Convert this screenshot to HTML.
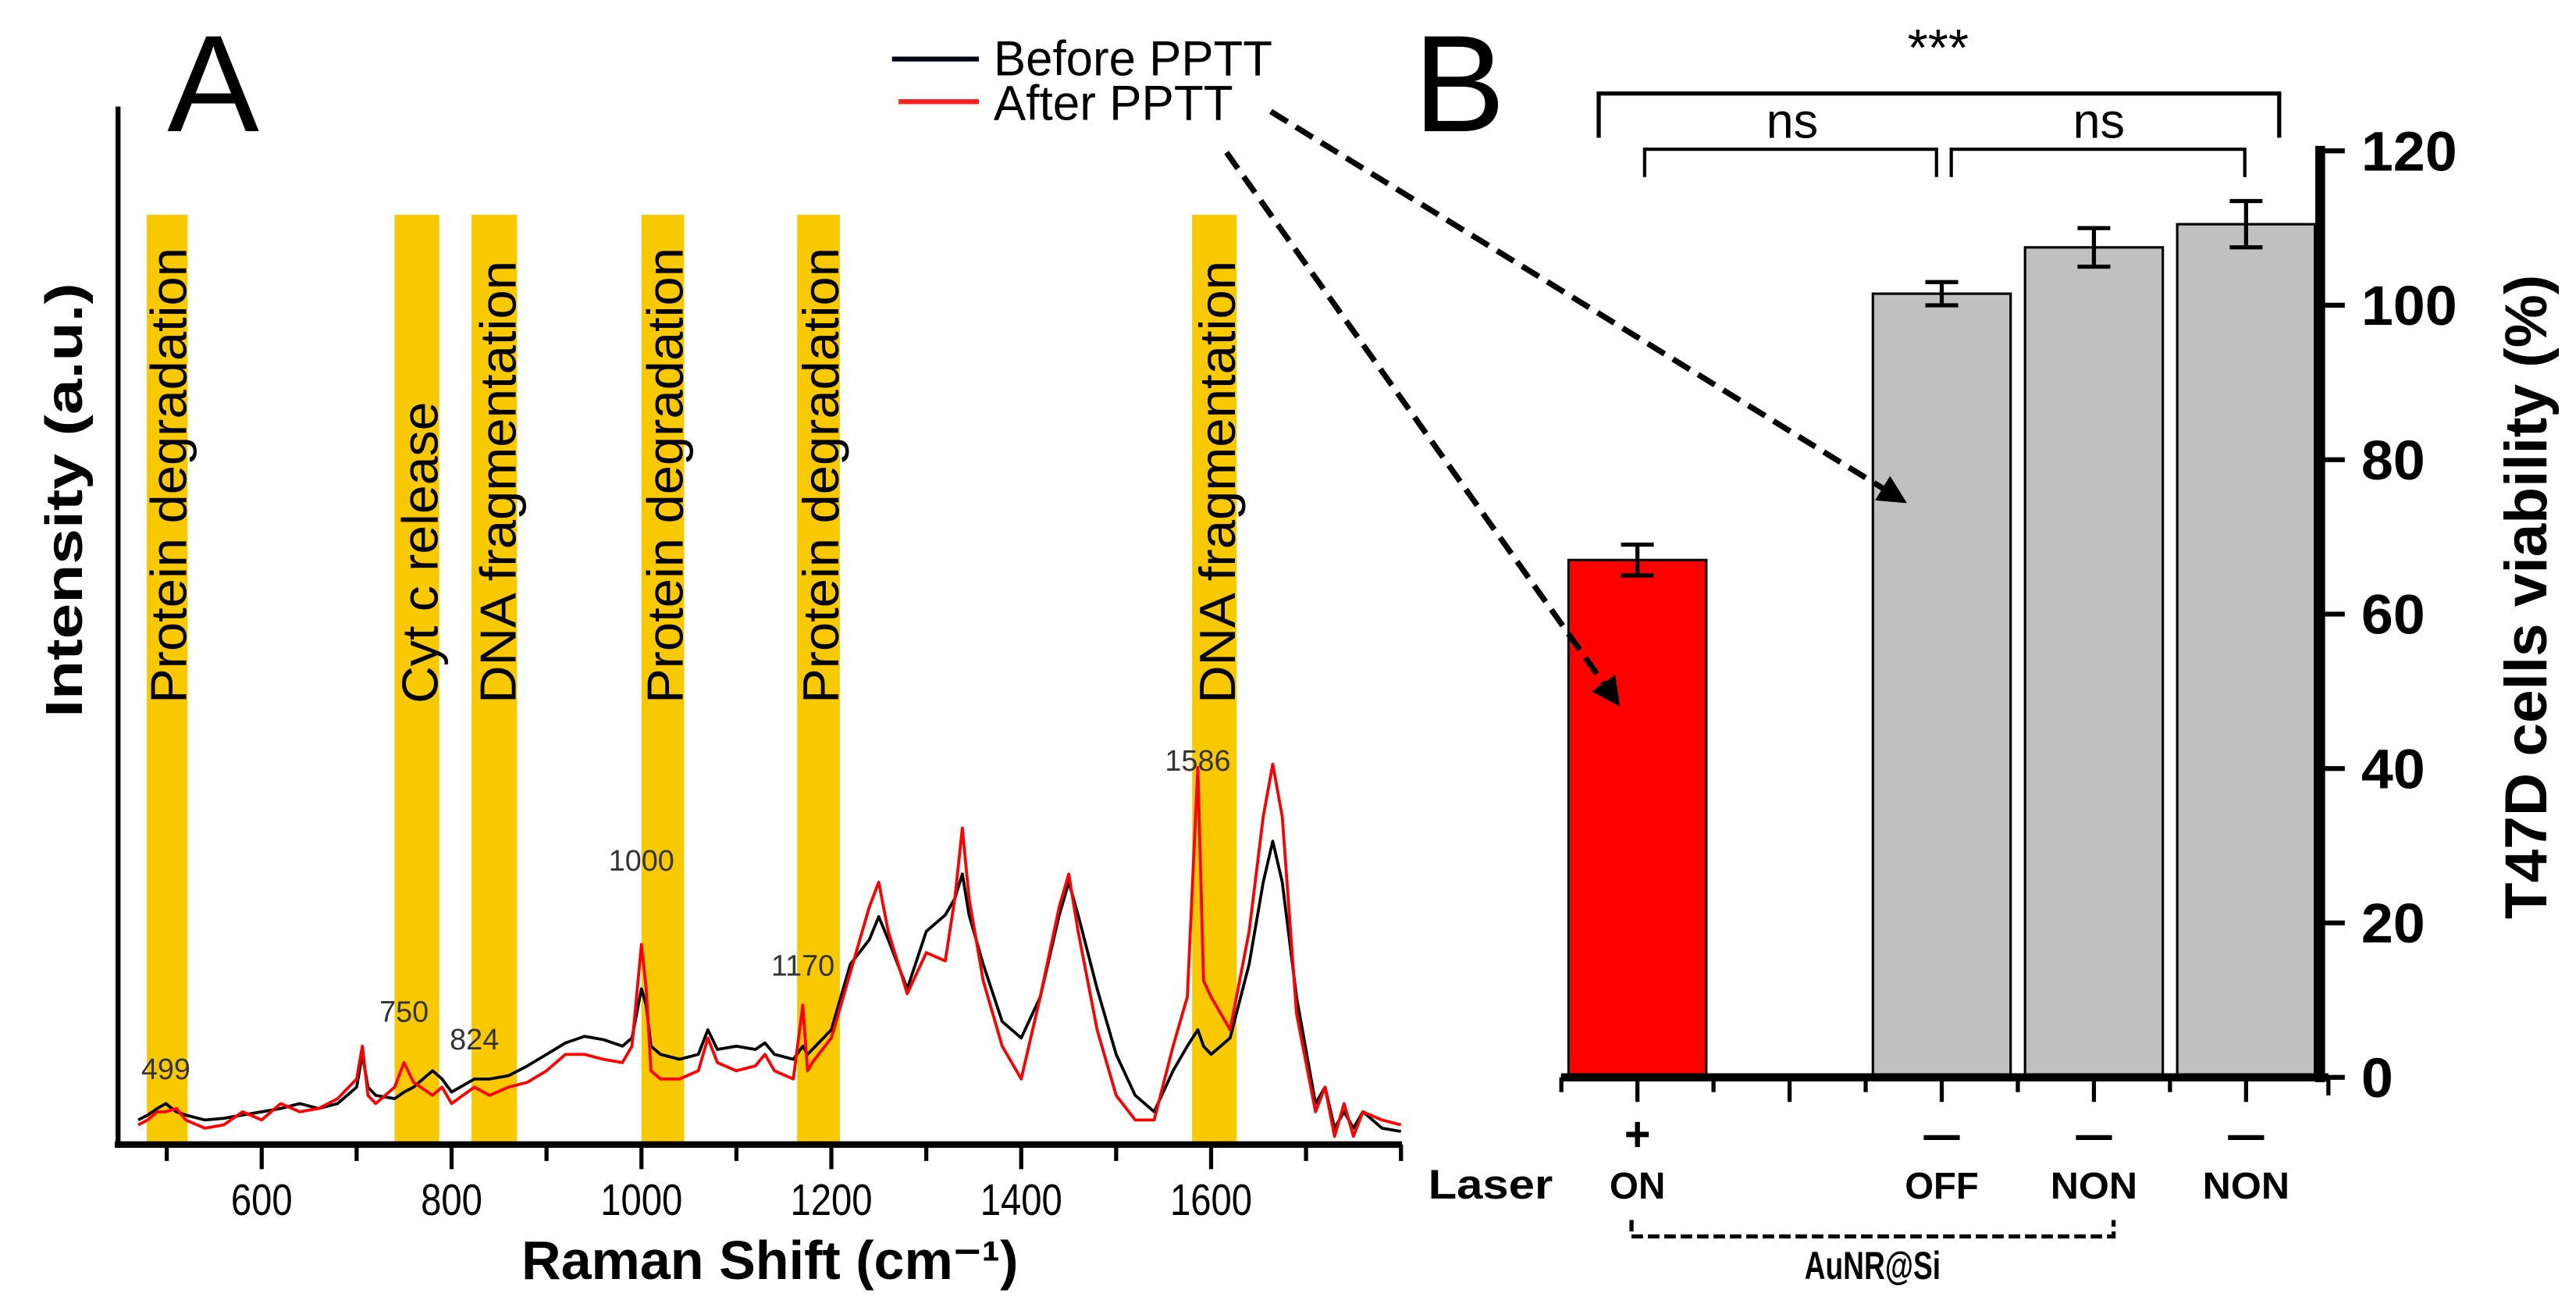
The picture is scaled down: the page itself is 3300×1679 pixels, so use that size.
<!DOCTYPE html>
<html><head><meta charset="utf-8"><style>
html,body{margin:0;padding:0;background:#fff;}
svg{display:block;}
text{font-family:"Liberation Sans",sans-serif;}
</style></head><body>
<svg id="fig" width="3300" height="1679" viewBox="0 0 1571 799.5" preserveAspectRatio="none" xmlns="http://www.w3.org/2000/svg">
<defs>
<marker id="ah" viewBox="0 0 10 10" refX="8" refY="5" markerWidth="5" markerHeight="5" orient="auto"><path d="M0,0 L10,5 L0,10 z" fill="#000"/></marker>
</defs>
<g id="panelA"></g>
<g id="panelB"></g>
</svg>
<script>
// ---------- Panel A data ----------
const wavenumbers = [470,480,490,499,510,520,540,560,580,600,620,640,660,680,700,706,712,720,740,750,760,780,790,800,824,840,860,880,900,920,940,960,980,990,1000,1005,1010,1020,1040,1060,1070,1080,1100,1120,1130,1140,1160,1170,1175,1180,1200,1220,1240,1250,1260,1280,1300,1320,1330,1338,1345,1360,1380,1400,1420,1440,1450,1460,1480,1500,1520,1540,1560,1575,1586,1592,1600,1620,1640,1655,1665,1675,1690,1710,1720,1730,1740,1750,1760,1780,1800];
const beforeSeries = [15,18,22,25,20,18,15,16,18,20,22,25,22,25,35,55,35,30,28,32,35,45,40,32,40,40,42,48,55,62,66,64,60,65,95,85,60,55,52,55,70,58,60,58,62,55,52,60,55,58,70,110,125,139,125,95,130,140,150,165,140,110,75,65,90,140,160,140,95,55,30,20,45,60,70,60,55,65,110,160,185,160,90,25,35,10,20,10,20,10,8];
const afterSeries = [12,15,20,20,22,15,10,12,20,15,25,20,22,28,40,60,30,25,35,50,38,30,35,25,35,30,35,38,45,55,55,52,50,60,122,95,45,40,40,45,65,50,45,48,55,45,40,85,45,50,65,105,145,160,130,92,117,112,150,193,150,100,60,40,90,145,165,130,70,30,15,15,60,90,230,100,90,70,130,200,232,200,80,20,35,5,25,5,20,15,12];
const bandStarts = [479,740,821,1000,1164,1580];
const bandEnds = [522,787,869,1045,1209,1627];
const bandLabels = ["Protein degradation","Cyt c release","DNA fragmentation","Protein degradation","Protein degradation","DNA fragmentation"];
const peakPositions = [499,750,824,1000,1170,1586];
const peakLabelHeights = [40,75,58,167,103,228];
const xTicksMajor = [600,800,1000,1200,1400,1600];
const xTicksMinor = [500,700,900,1100,1300,1500,1700,1800];

// ---------- Panel B data ----------
const groups = ["ON","","OFF","NON","NON"];
const laserSigns = ["+","","—","—","—"];
const viability = [67,null,101.5,107.5,110.5];
const viabilityErr = [2,null,1.5,2.5,3];
const barColors = ["#ff0000",null,"#c0c0c0","#c0c0c0","#c0c0c0"];
const yTicks = [0,20,40,60,80,100,120];

const NS="http://www.w3.org/2000/svg";
function mk(parent,tag,attrs,txt){const e=document.createElementNS(NS,tag);for(const k in attrs)e.setAttribute(k,attrs[k]);if(txt!==undefined)e.textContent=txt;parent.appendChild(e);return e;}
const NARROW='"Liberation Sans Narrow","Liberation Sans",sans-serif';

// ---------- Panel A ----------
const A=document.getElementById('panelA');
const xA=v=>159.6+(v-600)*0.579;
const yA=i=>698-i;
const labelLens={"Protein degradation":278,"Cyt c release":184,"DNA fragmentation":270};
bandStarts.forEach((s,i)=>{
  const r=mk(A,'rect',{x:xA(s),y:131,width:xA(bandEnds[i])-xA(s),height:567,fill:'#f9c900'});
  
  
  const t=mk(A,'text',{transform:`translate(${xA(bandEnds[i])-1},429) rotate(-90)`,'text-anchor':'start','font-size':31,fill:'#000',textLength:labelLens[bandLabels[i]],lengthAdjust:'spacingAndGlyphs'},bandLabels[i]);
  
  
});
function pathOf(series){return series.map((v,i)=>(i?'L':'M')+xA(wavenumbers[i]).toFixed(1)+','+yA(v).toFixed(1)).join(' ');}
const pb=mk(A,'path',{d:pathOf(beforeSeries),fill:'none',stroke:'#000','stroke-width':1.8,'stroke-linejoin':'round'});


const pa=mk(A,'path',{d:pathOf(afterSeries),fill:'none',stroke:'#ff0000','stroke-width':1.8,'stroke-linejoin':'round'});


peakPositions.forEach((p,i)=>{
  const t=mk(A,'text',{x:xA(p),y:yA(peakLabelHeights[i]),'text-anchor':'middle','font-size':18,fill:'#333'},String(p));
  
  
});
const ay=mk(A,'line',{x1:72,y1:65,x2:72,y2:700,stroke:'#000','stroke-width':3});


const ax=mk(A,'line',{x1:70,y1:698,x2:855,y2:698,stroke:'#000','stroke-width':4});


xTicksMajor.forEach(v=>{
  const l=mk(A,'line',{x1:xA(v),y1:698,x2:xA(v),y2:713,stroke:'#000','stroke-width':2.5});
  
  
  const t=mk(A,'text',{x:xA(v),y:741,'text-anchor':'middle','font-size':27,fill:'#000',textLength:String(v).length*12.5,lengthAdjust:'spacingAndGlyphs'},String(v));
  
  
});
xTicksMinor.forEach(v=>{
  const l=mk(A,'line',{x1:xA(v),y1:698,x2:xA(v),y2:708,stroke:'#000','stroke-width':2.5});
  
  
});
let t;
t=mk(A,'text',{x:318,y:780,'font-size':33,'font-weight':'bold',textLength:303,lengthAdjust:'spacingAndGlyphs'},'Raman Shift (cm⁻¹)');

t=mk(A,'text',{transform:'translate(50,305) rotate(-90)','text-anchor':'middle','font-size':32,'font-weight':'bold',textLength:265,lengthAdjust:'spacingAndGlyphs'},'Intensity (a.u.)');

t=mk(A,'text',{x:102,y:80,'font-size':84,fill:'#000'},'A');

let l=mk(A,'line',{x1:544,y1:36,x2:597,y2:36,stroke:'#000014','stroke-width':3});

l=mk(A,'line',{x1:548,y1:62,x2:597,y2:62,stroke:'#ff2020','stroke-width':3});

t=mk(A,'text',{x:606,y:46,'font-size':30,textLength:170,lengthAdjust:'spacingAndGlyphs'},'Before PPTT');

t=mk(A,'text',{x:606,y:73,'font-size':30,textLength:146,lengthAdjust:'spacingAndGlyphs'},'After PPTT');


// ---------- Panel B ----------
const B=document.getElementById('panelB');
const yB=v=>657-v*(565/120);
const cx=i=>998.6+i*92.8;
const bw=84;
const labelW={"ON":34,"OFF":45,"NON":53};
viability.forEach((v,i)=>{
  if(v===null)return;
  const r=mk(B,'rect',{x:cx(i)-bw/2,y:yB(v),width:bw,height:yB(0)-yB(v),fill:barColors[i],stroke:'#000','stroke-width':1.5});
  
  
  const e=viabilityErr[i];
  const g=mk(B,'path',{d:`M${cx(i)},${yB(v+e)} V${yB(v-e)} M${cx(i)-10},${yB(v+e)} H${cx(i)+10} M${cx(i)-10},${yB(v-e)} H${cx(i)+10}`,stroke:'#000','stroke-width':2.5,fill:'none'});
  
  
});
l=mk(B,'line',{x1:952,y1:657,x2:1420,y2:657,stroke:'#000','stroke-width':5});

l=mk(B,'line',{x1:1415,y1:89,x2:1415,y2:660,stroke:'#000','stroke-width':6});

groups.forEach((g,i)=>{
  l=mk(B,'line',{x1:cx(i),y1:657,x2:cx(i),y2:672,stroke:'#000','stroke-width':2.5});
  
  l=mk(B,'line',{x1:cx(i)-46.4,y1:657,x2:cx(i)-46.4,y2:666,stroke:'#000','stroke-width':2.5});
  
  if(laserSigns[i]){
    t=mk(B,'text',{x:cx(i),y:702,'text-anchor':'middle','font-size':30,'font-weight':'bold',textLength:laserSigns[i]==='+'?16:22,lengthAdjust:'spacingAndGlyphs'},laserSigns[i]);
    
  }
  if(g){
    t=mk(B,'text',{x:cx(i),y:731,'text-anchor':'middle','font-size':23,'font-weight':'bold','font-family':NARROW,textLength:labelW[g],lengthAdjust:'spacingAndGlyphs'},g);
    
  }
});
l=mk(B,'line',{x1:1420,y1:657,x2:1420,y2:668,stroke:'#000','stroke-width':2.5});

yTicks.forEach(v=>{
  l=mk(B,'line',{x1:1415,y1:yB(v),x2:1430,y2:yB(v),stroke:'#000','stroke-width':3});
  
  t=mk(B,'text',{x:1440,y:yB(v)+12,'font-size':34,'font-weight':'bold',textLength:String(v).length*19.5,lengthAdjust:'spacingAndGlyphs'},String(v));
  
});
t=mk(B,'text',{transform:'translate(1553,364) rotate(-90)','text-anchor':'middle','font-size':36,'font-weight':'bold',textLength:393,lengthAdjust:'spacingAndGlyphs'},'T47D cells viability (%)');

t=mk(B,'text',{x:862,y:80,'font-size':84},'B');

t=mk(B,'text',{x:947,y:731,'text-anchor':'end','font-size':25,'font-weight':'bold','font-family':NARROW,textLength:76,lengthAdjust:'spacingAndGlyphs'},'Laser');

l=mk(B,'path',{d:'M995,744 V754 H1289 V744',fill:'none',stroke:'#000','stroke-width':2.5,'stroke-dasharray':'7,3'});

t=mk(B,'text',{x:1142,y:780,'text-anchor':'middle','font-size':24,'font-weight':'bold','font-family':NARROW,textLength:83,lengthAdjust:'spacingAndGlyphs'},'AuNR@Si');

l=mk(B,'path',{d:'M975,84 V57 H1390 V84',fill:'none',stroke:'#000','stroke-width':2.5});

t=mk(B,'text',{x:1182,y:40,'text-anchor':'middle','font-size':32},'***');

l=mk(B,'path',{d:'M1003,108 V91 H1181 V108',fill:'none',stroke:'#000','stroke-width':2});

l=mk(B,'path',{d:'M1190,108 V91 H1369 V108',fill:'none',stroke:'#000','stroke-width':2});

t=mk(B,'text',{x:1093,y:84,'text-anchor':'middle','font-size':30},'ns');

t=mk(B,'text',{x:1280,y:84,'text-anchor':'middle','font-size':30},'ns');

const svg=document.getElementById('fig');
l=mk(svg,'line',{x1:775,y1:68,x2:1160,y2:305,stroke:'#000','stroke-width':3.5,'stroke-dasharray':'12,6','marker-end':'url(#ah)'});

l=mk(svg,'line',{x1:748,y1:93,x2:986,y2:428,stroke:'#000','stroke-width':3.5,'stroke-dasharray':'12,6','marker-end':'url(#ah)'});

</script>
</body></html>
